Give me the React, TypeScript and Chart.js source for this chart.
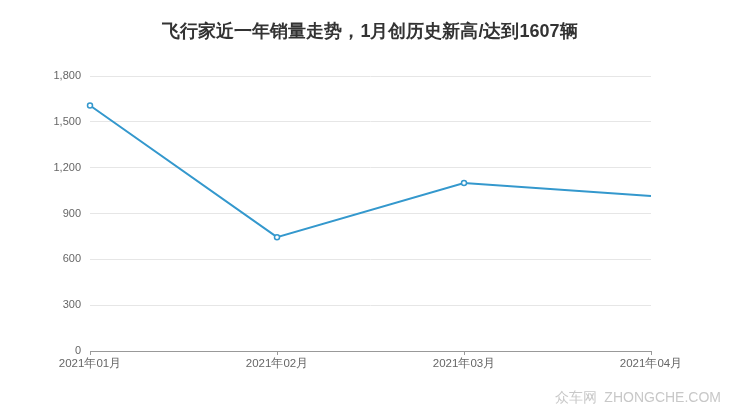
import { useEffect, useRef } from 'react';
import { Chart, registerables } from 'chart.js';

Chart.register(...registerables);

const months = ['2021年01月', '2021年02月', '2021年03月', '2021年04月'];
const sales = [1607, 745, 1100, 1015];
const yTicks = [0, 300, 600, 900, 1200, 1500, 1800];

const TITLE = '飞行家近一年销量走势，1月创历史新高/达到1607辆';
const FONT = '"Liberation Sans", Arial, sans-serif';

// title centred on the full canvas and watermark in the bottom right corner
const decorations = {
  id: 'decorations',
  afterDraw(chart: Chart) {
    const ctx = chart.ctx;
    ctx.save();
    ctx.font = 'bold 18px ' + FONT;
    ctx.fillStyle = '#333333';
    ctx.textAlign = 'center';
    ctx.textBaseline = 'middle';
    ctx.fillText(TITLE, 370, 32);

    ctx.font = '14px ' + FONT;
    ctx.fillStyle = '#c8c8c8';
    ctx.textAlign = 'right';
    ctx.fillText('众车网  ZHONGCHE.COM', 721, 398);
    ctx.restore();
  },
};

export default function App() {
  const canvasRef = useRef<HTMLCanvasElement>(null);
  const chartRef = useRef<Chart | null>(null);

  useEffect(() => {
    if (!canvasRef.current) return;
    if (chartRef.current) chartRef.current.destroy();

    chartRef.current = new Chart(canvasRef.current, {
      type: 'line',
      data: {
        labels: months,
        datasets: [
          {
            data: sales,
            borderColor: '#3498cd',
            borderWidth: 2,
            backgroundColor: '#ffffff',
            pointBorderColor: '#3498cd',
            pointBackgroundColor: '#ffffff',
            pointBorderWidth: 1.5,
            pointRadius: [2.5, 2.5, 2.5, 0],
            tension: 0,
            fill: false,
          },
        ],
      },
      options: {
        animation: false,
        responsive: false,
        layout: { padding: { left: 0, right: 89, top: 76, bottom: 0 } },
        plugins: {
          legend: { display: false },
          tooltip: { enabled: false },
          title: { display: false },
        },
        scales: {
          x: {
            offset: false,
            grid: {
              display: true,
              drawOnChartArea: false,
              drawTicks: true,
              tickLength: 4,
              color: '#999999',
            },
            border: { display: true, color: '#999999', width: 1 },
            ticks: {
              color: '#666666',
              font: { family: FONT, size: 11.5 },
              padding: 2,
              maxRotation: 0,
              autoSkip: false,
            },
            afterFit(scale: any) {
              scale.height = 66;
            },
          },
          y: {
            min: 0,
            max: 1800,
            afterBuildTicks(scale: any) {
              scale.ticks = yTicks.map((v) => ({ value: v }));
            },
            grid: { color: '#e6e6e6', drawTicks: false },
            border: { display: false },
            ticks: {
              color: '#666666',
              font: { family: FONT, size: 11 },
              padding: 9,
            },
            afterFit(scale: any) {
              scale.width = 90;
            },
          },
        },
      },
      plugins: [decorations],
    });

    return () => {
      if (chartRef.current) {
        chartRef.current.destroy();
        chartRef.current = null;
      }
    };
  }, []);

  return (
    <div style={{ position: 'fixed', left: 0, top: 0, width: 740, height: 417, background: '#fff' }}>
      <canvas ref={canvasRef} width={740} height={417} />
    </div>
  );
}
